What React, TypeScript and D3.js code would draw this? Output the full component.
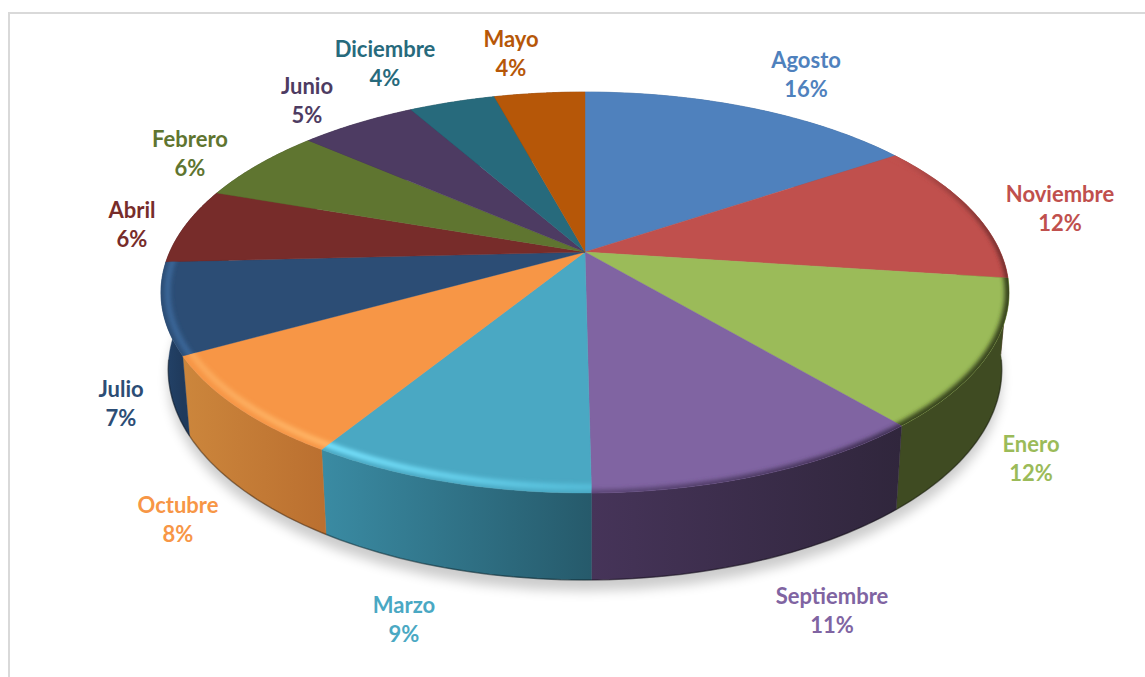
import React from "react";
import * as d3 from "d3";

const months = ["Agosto","Noviembre","Enero","Septiembre","Marzo","Octubre","Julio","Abril","Febrero","Junio","Diciembre","Mayo"];
const shares = [15.6,11.5,11.75,10.95,9.0,8.1,7.3,6.1,6.1,5.4,4.0,4.2];
const percentLabels = ["16%","12%","12%","11%","9%","8%","7%","6%","6%","5%","4%","4%"];
const topColors = ["#4f81bd","#c0504d","#9bbb59","#8064a2","#4aa8c3","#f79646","#2c4d75","#772c2a","#5f7530","#4d3b62","#276a7c","#b65708"];
const sideStart = ["#3c6390","#7a3331","#3f4b22","#463459","#3a8ba3","#cc863c","#24446b","#4e1e1c","#3e4d20","#33273f","#1a4753","#7a3a05"];
const sideEnd = ["#3c6390","#5a2524","#3f4b22","#30263c","#265a6b","#bb7030","#1f3a5c","#4e1e1c","#3e4d20","#33273f","#1a4753","#7a3a05"];
const rimStart = ["#4f81bd","#c0504d","#39451f","#5d4778","#78e4ff","#fba85a","#3a6698","#772c2a","#5f7530","#4d3b62","#276a7c","#b65708"];
const rimEnd = ["#4f81bd","#6e2c2c","#39451f","#3f2f52","#54bcd8","#ffb566","#3a6698","#772c2a","#5f7530","#4d3b62","#276a7c","#b65708"];
const rimRadius = [1,1,1,1.002,0.98,0.98,0.985,1,1,1,1,1];
const rimWidth = [0,6,9,8,6,6,6,0,0,0,0,0];
const labelX = [806,1060,1031,832,404,178,121,132,190,307,385,511];
const labelY = [61,195,445,597,606,506,390,211,140,87,50,40];

const cx = 585, cy = 252;
const k = 0.202, a = 192.3, b = 415.3;
const bottomX = d3.scaleLinear().domain([0, 1145]).range([585 - 585 * 0.983, 585 + 560 * 0.983]);
const bottomY = d3.scaleLinear().domain([0, 677]).range([62.4, 62.4 + 677 * 1.05]);

type P = [number, number];
const rimPoint = (angle: number, r = 1): P => {
  const X = Math.sin(angle) * r, Y = -Math.cos(angle) * r;
  const den = 1 - k * Y;
  return [cx + (b * X) / den, cy + (a * Y) / den];
};
const lowPoint = (angle: number): P => {
  const [x, y] = rimPoint(angle);
  return [bottomX(x), bottomY(y)];
};
const samples = (s: number, e: number) => d3.range(0, 61).map((i) => s + ((e - s) * i) / 60);
const line = d3.line<P>();
const closed = (pts: P[]) => (line(pts) as string) + "Z";

const arcs = d3.pie<number>().sort(null).value((d) => d)(shares);
const full = samples(0, Math.PI * 2);

export default function App() {
  return (
    <svg width={1145} height={677} style={{ position: "absolute", left: 0, top: 0, display: "block", background: "#fff" }}
      fontFamily="Lato, Carlito, sans-serif" fontWeight={700}>
      <defs>
        <filter id="soft" x="-10%" y="-10%" width="120%" height="120%"><feGaussianBlur stdDeviation="6" /></filter>
        <filter id="rim" filterUnits="userSpaceOnUse" x="0" y="0" width="1145" height="677"><feGaussianBlur stdDeviation="2" /></filter>
        {arcs.map((d, i) => {
          const xs = samples(d.startAngle, d.endAngle).map((t) => rimPoint(t)[0]);
          const x0 = d3.min(xs) as number, x1 = d3.max(xs) as number;
          return (
            <React.Fragment key={i}>
              <linearGradient id={`side${i}`} gradientUnits="userSpaceOnUse" x1={x0} x2={x1} y1={0} y2={0}>
                <stop offset="0" stopColor={sideStart[i]} />
                <stop offset="1" stopColor={sideEnd[i]} />
              </linearGradient>
              <linearGradient id={`rimg${i}`} gradientUnits="userSpaceOnUse" x1={x0} x2={x1} y1={0} y2={0}>
                <stop offset="0" stopColor={rimStart[i]} />
                <stop offset="1" stopColor={rimEnd[i]} />
              </linearGradient>
              <clipPath id={`clip${i}`}>
                <path d={closed([[cx, cy], ...samples(d.startAngle, d.endAngle).map((t) => rimPoint(t))])} />
              </clipPath>
            </React.Fragment>
          );
        })}
      </defs>
      <path d="M1145,13H9V677" fill="none" stroke="#d9d9d9" strokeWidth={2} />
      <path d={closed(full.map((t) => { const [x, y] = lowPoint(t); return [x, y + 11] as P; }))} fill="#000" opacity={0.2} filter="url(#soft)" />
      {arcs.map((d, i) => {
        const ts = samples(d.startAngle, d.endAngle);
        return (
          <path key={i} d={closed([...ts.map((t) => rimPoint(t)), ...ts.slice().reverse().map(lowPoint)])}
            fill={`url(#side${i})`} stroke={`url(#side${i})`} strokeWidth={0.4} />
        );
      })}
      <path d={line(samples(Math.PI * 0.55, Math.PI * 1.45).map(lowPoint)) as string} fill="none" stroke="#000" strokeOpacity={0.35} strokeWidth={1.5} />
      {arcs.map((d, i) => (
        <path key={i} d={closed([[cx, cy], ...samples(d.startAngle, d.endAngle).map((t) => rimPoint(t))])}
          fill={topColors[i]} stroke={topColors[i]} strokeWidth={0.4} />
      ))}
      {arcs.map((d, i) => rimWidth[i] > 0 && (
        <g key={i} clipPath={`url(#clip${i})`}>
          <path d={line(samples(d.startAngle - 0.05, d.endAngle + 0.05).map((t) => rimPoint(t, rimRadius[i]))) as string}
            fill="none" stroke={`url(#rimg${i})`} strokeWidth={rimWidth[i]} filter="url(#rim)" />
        </g>
      ))}
      {months.map((m, i) => (
        <g key={m} fill={topColors[i]} textAnchor="middle" fontSize={22}>
          <text x={labelX[i]} y={labelY[i] + 7}>{m}</text>
          <text x={labelX[i]} y={labelY[i] + 36}>{percentLabels[i]}</text>
        </g>
      ))}
    </svg>
  );
}
